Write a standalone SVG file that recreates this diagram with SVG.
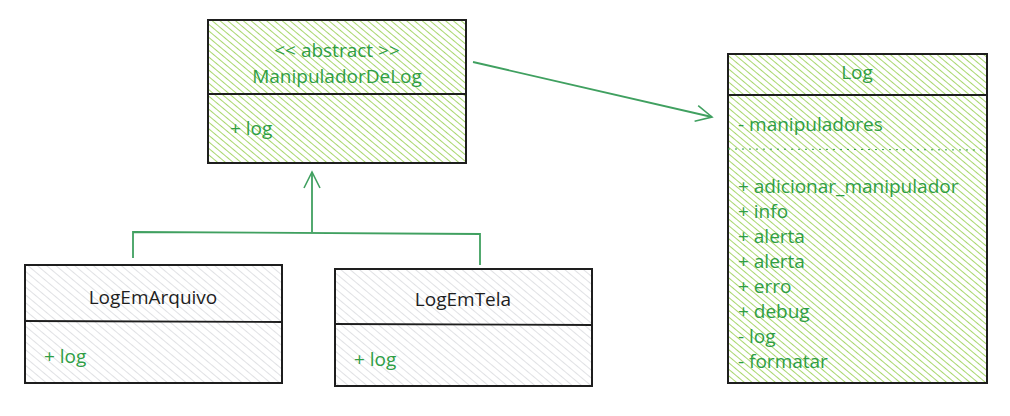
<svg xmlns="http://www.w3.org/2000/svg" width="1010" height="416" viewBox="0 0 1010 416">
<defs>
<pattern id="hg" width="5" height="5" patternUnits="userSpaceOnUse" patternTransform="rotate(-50)">
<rect width="5" height="5" fill="#ffffff"/>
<line x1="0" y1="0" x2="0" y2="5" stroke="#9fd35e" stroke-width="1.8"/>
</pattern>
<pattern id="hgray" width="6" height="6" patternUnits="userSpaceOnUse" patternTransform="rotate(-50)">
<rect width="6" height="6" fill="#ffffff"/>
<line x1="0" y1="0" x2="0" y2="6" stroke="#d6d8dc" stroke-width="1.5"/>
</pattern>
<marker id="open" viewBox="0 0 20 20" refX="18" refY="10" markerWidth="20" markerHeight="20" markerUnits="userSpaceOnUse" orient="auto">
<path d="M2,2 L18,10 L2,18" fill="none" stroke="#40a060" stroke-width="1.6"/>
</marker>
</defs>
<style>
.box{stroke:#1e1e1e;stroke-width:2}
.div{stroke:#1e1e1e;stroke-width:1.8}
.t{font-family:"Open Sans","Liberation Sans",sans-serif;font-size:19px;fill:#2f9e44}
.tb{font-family:"Open Sans","Liberation Sans",sans-serif;font-size:19px;fill:#1e1e1e}
.c{fill:none;stroke:#40a060;stroke-width:1.8}
</style>
<g id="manipulador">
<rect x="208" y="20" width="258" height="143" fill="url(#hg)" class="box"/>
<line x1="208" y1="94" x2="466" y2="94" class="div"/>
<text x="337" y="57" text-anchor="middle" class="t">&lt;&lt; abstract &gt;&gt;</text>
<text x="337" y="83" text-anchor="middle" class="t">ManipuladorDeLog</text>
<text x="230" y="135" class="t">+ log</text>
</g>
<g id="log">
<rect x="728" y="54" width="259" height="329" fill="url(#hg)" class="box"/>
<line x1="728" y1="95" x2="987" y2="95" class="div" stroke-width="2.4"/>
<line x1="728" y1="149" x2="987" y2="150" stroke="#2f9e44" stroke-width="1" stroke-dasharray="2 5"/>
<text x="857" y="79" text-anchor="middle" class="t">Log</text>
<text x="738" y="131" class="t">- manipuladores</text>
<text x="738" y="193" class="t">+ adicionar_manipulador</text>
<text x="738" y="218" class="t">+ info</text>
<text x="738" y="243" class="t">+ alerta</text>
<text x="738" y="268" class="t">+ alerta</text>
<text x="738" y="293" class="t">+ erro</text>
<text x="738" y="318" class="t">+ debug</text>
<text x="738" y="343" class="t">- log</text>
<text x="738" y="368" class="t">- formatar</text>
</g>
<g id="logemarquivo">
<rect x="25" y="265" width="257" height="118" fill="url(#hgray)" class="box"/>
<line x1="25" y1="321" x2="282" y2="322" class="div"/>
<text x="153" y="304" text-anchor="middle" class="tb">LogEmArquivo</text>
<text x="44" y="363" class="t">+ log</text>
</g>
<g id="logemtela">
<rect x="335" y="269" width="257" height="117" fill="url(#hgray)" class="box"/>
<line x1="335" y1="324" x2="592" y2="325" class="div"/>
<text x="463" y="306" text-anchor="middle" class="tb">LogEmTela</text>
<text x="354" y="366" class="t">+ log</text>
</g>
<g id="connectors">
<path d="M133,258 L133,232 L480,234 L480,265" class="c"/>
<path d="M312,232 L312,172" class="c" marker-end="url(#open)"/>
<path d="M473,62 L712,117" class="c" marker-end="url(#open)"/>
</g>
</svg>
